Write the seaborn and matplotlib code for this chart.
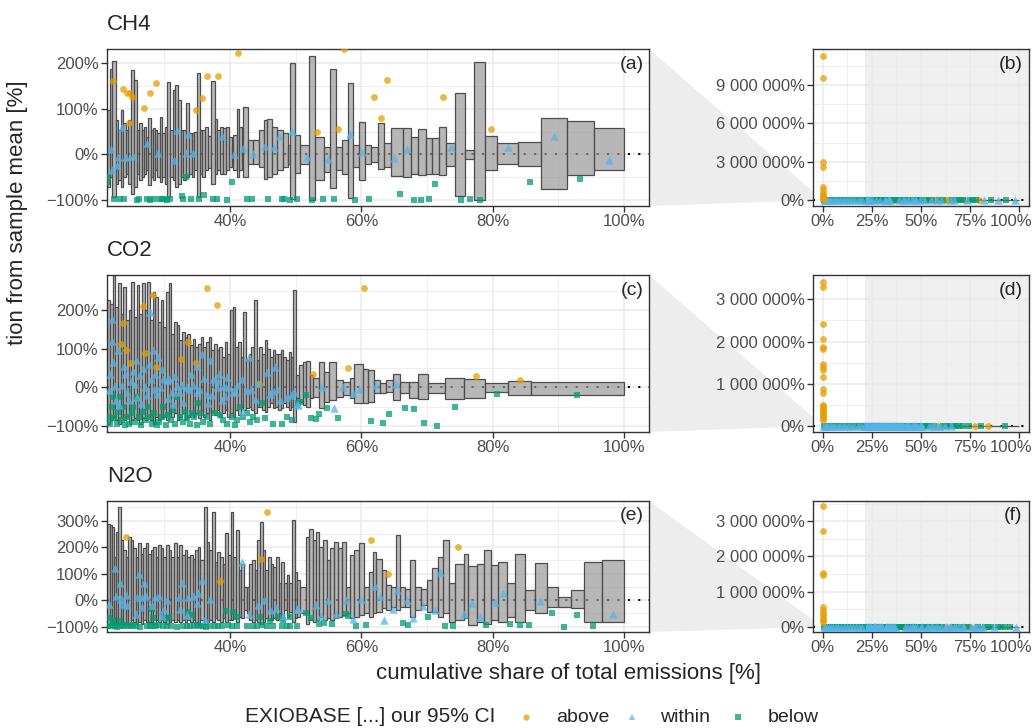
import numpy as np
import pandas as pd
import seaborn as sns
import matplotlib.pyplot as plt
import matplotlib.transforms as mtransforms
from matplotlib.patches import Polygon
from matplotlib.lines import Line2D
from matplotlib.ticker import FuncFormatter, FixedLocator

sns.set_theme(style="white")
plt.rcParams['font.family'] = ['Liberation Sans', 'DejaVu Sans']

ORANGE, BLUE, GREEN = "#E69F00", "#56B4E9", "#009E73"

# ---------------- CH4 ----------------
# box edges = cumulative share of emissions [%], lo/hi = our 95% CI [% deviation]
ch4_edges = [20.0, 21.3, 21.7, 22.1, 22.6, 23.0, 23.4, 23.75, 24.15, 24.5, 25.0, 25.4, 25.8, 26.2, 26.55,
             26.9, 27.2, 27.55, 27.9, 28.2, 28.6, 28.9, 29.35, 29.7, 30.1, 30.45, 30.85, 31.25, 31.65, 32.1,
             32.5, 32.9, 33.3, 33.7, 34.15, 34.55, 35.0, 35.4, 35.8, 36.25, 36.65, 37.1, 37.65, 38.05, 38.5,
             39.0, 39.4, 39.8, 40.3, 40.5, 41.0, 41.4, 41.8, 42.0, 42.8, 43.55, 44.45, 45.15, 45.7, 46.35,
             47.1, 48.0, 48.9, 49.15, 49.9, 50.65, 52.0, 52.9, 54.35, 55.3, 56.2, 57.1, 57.9, 58.8, 59.7,
             60.55, 61.5, 62.6, 63.5, 64.5, 66.4, 67.5, 68.6, 69.8, 70.8, 71.75, 72.95, 74.3, 75.8, 77.2,
             78.9, 80.7, 83.9, 87.4, 91.3, 95.4, 100.0]
ch4_lo = [-60, -71, -49, -93, -64, -56, -71, -49, -42, -64, -86, -71, -42, -56, -49, -42, -34, -67, -49, -56,
          -34, -49, -60, -49, -64, -93, -49, -56, -71, -64, -49, -56, -49, -42, -49, -34, -93, -42, -49, -34,
          -30, -64, -42, -34, -42, -42, -34, -27, -20, -34, -49, -34, -20, -49, -20, -20, -27, -53, -49, -42,
          -34, -27, -20, -97,
          -40, -20, -99, -56, -38, -73, -34, -42, -96, -27, -56, -20, -16, -31, -27, -47, -49, -42, -45, -42,
          -42, -45, -25, -91, -9, -99, -34, -20, -26, -76, -45, -34]
ch4_hi = [90, 97, 188, 205, 76, 53, 97, 68, 53, 76, 185, 164, 53, 68, 53, 61, 39, 79, 53, 57,
          53, 46, 82, 46, 61, 159, 53, 141, 152, 119, 53, 53, 112, 46, 46, 50, 179, 53, 53, 61,
          40, 161, 77, 53, 61, 57, 61, 39, 20, 42, 99, 61, 20, 103, 31, 31, 53, 75, 77, 61,
          53, 46, 20, 200,
          42, 20, 216, 39, 17, 187, 17, 31, 157, 20, 72, 20, 17, 68, 24, 59, 57, 39, 55, 35,
          37, 61, 26, 134, 10, 202, 41, 24, 28, 80, 73, 59]

ch4_above_x = [22.23, 23.65, 24.26, 24.62, 24.77, 25.02, 26.9, 27.81, 28.73, 34.82, 35.68, 36.54, 38.22,
               41.27, 53.26, 56.5, 57.4, 61.96, 62.99, 63.97, 72.4, 79.7]
ch4_above_y = [161.5, 143.2, 135.2, 67.9, 133.7, 126.4, 100.8, 133.7, 155.6, 97.2, 122.7, 171.7, 171.7,
               221.4, 49.7, 54.8, 232, 125, 80.4, 163, 126.4, 54.8]
ch4_within_x = [21.82, 21.98, 22.74, 22.99, 23.5, 24.16, 25.28, 27.31, 28.98, 31.47, 31.88, 33.3, 33.65,
                34.41, 38.83, 40.66, 41.93, 43.55, 45.33, 46.7, 47.41, 49.39, 51.74, 54.89, 58.27, 60.17,
                64.9, 66.96, 73.65, 82.3, 89.26, 97.69]
ch4_within_y = [11.6, -34.4, -23.4, -6.6, 60.6, -6.6, -3.7, 24.1, 2.2, -12.5, 53.3, 2.2, 44.5,
                2.2, 40.9, 0, 14.6, 0, 19, 16.8, 40.9, 51.8, -5.2, -10.3, 44.6, 4.3,
                -8.8, 11, 16.8, 15.3, 40.9, -12.5]
ch4_below_x = [21.32, 21.32, 22.33, 23.25, 23.85, 25.89, 26.19, 27.31, 27.81, 28.32, 29.24, 29.59, 29.95,
               30.35, 30.86, 32.64, 32.89, 33.23, 34.01, 35.28, 36.09, 37.46, 37.97, 39.49, 40.25, 42.53,
               43.30, 45.83, 47.87, 48.22, 49.13, 50.15, 52.55, 54.19, 55.82, 59.08, 61.09, 65.9, 68.05,
               69.14, 70.23, 71.2, 75.12, 76.48, 78.11, 85.7, 93.3]
ch4_below_y = [-49, -60, -97, -98, -97, -99, -98, -97, -99, -98, -98, -97, -98,
               -99, -98, -91, -97, -49, -98, -97, -88, -98, -97, -99, -60, -98,
               -97, -98, -97, -98, -99, -98, -99, -98, -98, -99, -98, -86, -99,
               -99, -98, -64, -99, -98, -99, -61, -53]
# sectors below 21 % share (only visible in the full-range panel)
ch4_low_above_x = [0.3, 0.6, 5.1, 12.2]
ch4_low_above_y = [180, 95, 140, 120]
ch4_low_within_x = [0.4, 1.1, 1.9, 2.8, 3.7, 4.9, 6.2, 7.4, 8.9, 10.3, 11.8, 13.5, 15.1, 16.6, 18.2, 19.7]
ch4_low_within_y = [12, -30, 45, 8, -15, 60, 22, -8, 35, -40, 15, 5, -22, 48, 10, -5]
ch4_low_below_x = [0.7, 1.5, 2.4, 3.3, 4.4, 5.6, 6.9, 8.1, 9.6, 11.0, 12.6, 14.2, 15.8, 17.4, 19.0, 20.5]
ch4_low_below_y = [-98, -97, -99, -96, -98, -99, -97, -98, -99, -96, -98, -97, -99, -98, -97, -99]
ch4_out_x = [0.1, 0.1, 0.15, 0.1, 0.2, 0.15, 0.1, 0.2, 0.3, 0.25, 0.4]
ch4_out_y = [11.3e6, 9.57e6, 3.0e6, 2.6e6, 1.04e6, 0.78e6, 0.55e6, 0.38e6, 0.25e6, 0.15e6, 0.08e6]

# ---------------- CO2 ----------------
co2_edges = [20.0, 21.32, 21.73, 22.13, 22.54, 22.94, 23.35, 23.76, 24.16, 24.57, 24.97, 25.38, 25.79, 26.19,
             26.60, 27.00, 27.41, 27.82, 28.22, 28.63, 29.03, 29.44, 29.85, 30.25, 30.66, 31.06, 31.47, 31.88,
             32.28, 32.69, 33.09, 33.50, 33.91, 34.31, 34.72, 35.12, 35.53, 35.94, 36.34, 36.75, 37.15, 37.56,
             37.97, 38.37, 38.78, 39.18, 39.59, 40.00, 40.40, 40.81, 41.21, 41.62, 42.03, 42.43, 42.84, 43.24,
             43.65, 44.06, 44.46, 44.87, 45.27, 45.68, 46.09, 46.49, 46.90, 47.30, 47.71, 48.12, 48.52, 48.93,
             49.33, 49.60, 50.00, 50.5, 51.1, 51.6, 52.2, 52.7, 53.5, 54.35, 55.0, 56.2, 57.2, 58.3, 58.9,
             60.2, 61.0, 62.0, 62.9, 63.7, 64.8, 65.9, 67.2, 68.7, 70.2, 72.7, 75.7, 78.9, 82.3, 85.9, 100.0]
co2_hi = [200,
          225, 217, 290, 208, 269, 191, 260, 174, 199, 273, 182, 264, 191, 269, 199, 273, 174, 247, 234, 169,
          225, 156, 247, 270, 139, 169, 161, 122, 143, 130, 139, 109, 126, 104, 113, 129, 104, 117, 130, 96,
          113, 96, 104, 79, 117, 87, 199, 208, 104, 117, 79, 195, 70, 87, 104, 225, 70, 104, 87, 122,
          100, 79, 96, 87, 87, 96, 79, 70, 92, 79, 251,
          31, 57, 66, 67, 31, 24, 66, 40, 66, 18, 14, 23, 60, 47, 44, 18, 12, 18, 35, 14,
          14, 35, 12, 23, 21, 10, 16, 14]
co2_lo = [-90,
          -94, -86, -77, -86, -94, -77, -86, -77, -94, -86, -81, -86, -94, -81, -86, -77, -86, -94, -77, -86,
          -81, -77, -86, -68, -77, -68, -86, -77, -68, -86, -77, -68, -77, -68, -81, -60, -77, -68, -86, -64,
          -73, -60, -77, -68, -60, -77, -68, -77, -60, -73, -51, -60, -55, -51, -60, -68, -51, -51, -60, -64,
          -51, -42, -55, -51, -60, -55, -42, -51, -60, -51, -90,
          -29, -38, -47, -51, -29, -25, -55, -38, -34, -25, -21, -29, -40, -40, -38, -16, -16, -12, -34, -15,
          -29, -31, -16, -31, -28, -12, -19, -19]

co2_above_x = [23.35, 23.65, 24.16, 24.77, 26.8, 27.05, 28.32, 28.73, 32.48, 33.65, 34.77, 36.44, 38.07,
               44.46, 52.7, 57.9, 60.4, 77.4, 84.1]
co2_above_y = [111, 166.6, 95.8, 63.9, 210.7, 88.9, 239.2, 52.6, 72.5, 117.4, 63.9, 257.3, 214.1,
               9.5, 35.4, 51, 258.2, 28.5, 18.2]
co2_within_x = [21.98, 21.72, 21.62, 22.23, 22.48, 22.64, 22.99, 23.5, 24.0, 24.26, 24.67, 25.28, 25.53,
                25.89, 26.29, 26.7, 27.05, 27.41, 27.81, 27.92, 28.22, 28.58, 28.83, 29.08, 29.34, 29.85,
                30.35, 30.76, 31.11, 31.37, 31.88, 32.28, 32.64, 33.4, 33.8, 34.41, 34.92, 35.33, 35.68,
                36.04, 36.44, 36.95, 37.21, 37.46, 37.97, 38.37, 38.73, 39.08, 39.49, 39.74, 40.5, 40.76,
                41.78, 42.03, 42.53, 42.89, 43.14, 43.8, 45.58, 46.09, 46.85, 47.1, 47.61, 48.63, 49.24,
                50.15, 49.8, 50.4, 54.0, 55.8, 57.2, 58.7, 59.6, 62.3, 65.3,
                22.1, 23.1, 23.9, 24.9, 25.7, 26.5, 27.6, 28.4, 29.7, 30.5, 31.6, 32.9, 34.1, 35.0, 36.7,
                38.1, 39.3, 41.0, 44.2, 46.4]
co2_within_y = [178, 35.4, -7.8, 65.6, 2.6, -32, 95.8, 5.1, 35.4, -12.1, -33.7, 42.3, 9.5,
                -25, 31, 50.9, 0.8, -20.8, 195.1, 22.4, 95.8, 35.4, -18.2, 78.6, 0.8, 22.4,
                18.1, 22.4, -12.1, -42.4, 2.6, -12.1, 5.1, 0.8, -3.5, 5.1, -12.1, -3.5, 85.5,
                25, -18.2, 69.9, -20.8, 22.4, 0.8, 35.4, -33.7, 2.6, 26.7, 0.8, -12.1, -12.1,
                22.4, -64, -7.8, 78.6, -3.5, -29.4, 39.7, -16.4, 52.6, -3.5, -33.7, -25, -19,
                -42.4, -12, -44.9, 0.9, -53.5, 0.9, -14.7, -5, 5.2, 9.5,
                120, -45, 55, 15, 70, -40, 60, -5, 48, -28, 30, -38, 35, 55, -40,
                15, -22, 5, 10, -10]
co2_below_x = [21.62, 21.72, 21.98, 22.23, 22.33, 22.74, 22.99, 23.25, 23.5, 23.75, 24.0, 24.36, 24.67,
               25.02, 25.28, 25.53, 25.78, 26.19, 26.39, 26.8, 27.2, 27.56, 27.81, 28.07, 28.42, 28.83,
               29.24, 29.59, 29.85, 30.25, 30.61, 30.96, 31.37, 31.67, 31.98, 32.38, 32.79, 33.14, 33.5,
               33.91, 34.16, 34.52, 34.92, 35.17, 35.43, 35.94, 36.44, 36.95, 37.71, 38.47, 38.98, 39.49,
               40.25, 40.76, 41.11, 41.52, 42.03, 42.53, 43.04, 43.55, 44.06, 44.82, 45.33, 46.6, 47.87,
               48.63, 49.39, 50.4, 50.65, 51.5, 52.3, 53.1, 53.6, 54.7, 56.5, 61.4, 63.3, 64.2, 66.7,
               68.05, 69.6, 71.5, 74.3, 80.7, 92.9]
co2_below_y = [-77, -94, -51, -25, -81, -94, -64, -25, -86, -51, -98, -77, -94,
               -68, -51, -90, -25, -77, -98, -64, -86, -51, -77, -94, -68, -98,
               -90, -77, -51, -98, -73, -86, -60, -94, -25, -77, -90, -64, -81,
               -94, -68, -77, -98, -42, -68, -90, -77, -94, -68, -73, -86, -94,
               -77, -98, -86, -51, -77, -68, -90, -77, -86, -42, -81, -94, -94,
               -77, -86, -42, -38, -20.7, -81, -82.9, -68.2, -53.5, -78.6, -88, -91.5, -68.2, -52.6,
               -57, -91.5, -100, -50.9, -16.4, -19]
co2_low_above_x = [0.5, 2.6, 7.9, 14.3]
co2_low_above_y = [150, 210, 90, 130]
co2_low_within_x = [0.3, 0.9, 1.6, 2.3, 3.2, 4.1, 5.3, 6.4, 7.6, 8.8, 10.1, 11.4, 12.9, 14.6, 16.0, 17.7, 19.3, 20.8]
co2_low_within_y = [25, -18, 60, 4, -35, 12, 42, -9, 20, -44, 7, 33, -15, 52, 0, -27, 18, -6]
co2_low_below_x = [0.6, 1.3, 2.0, 2.9, 3.8, 4.7, 5.9, 7.0, 8.3, 9.5, 10.8, 12.2, 13.7, 15.3, 16.9, 18.5, 20.1]
co2_low_below_y = [-96, -99, -88, -97, -75, -98, -92, -99, -81, -97, -94, -99, -86, -98, -91, -97, -99]
co2_out_x = [0.2, 0.3, 0.2, 0.25, 0.2, 0.3, 0.2, 0.25, 0.3, 0.2, 0.25, 0.2, 0.3, 0.2, 0.25, 0.3, 0.2, 0.25,
             0.3, 0.2, 0.25, 0.3]
co2_out_y = [3.41e6, 3.29e6, 2.41e6, 2.05e6, 1.86e6, 1.82e6, 1.46e6, 1.39e6, 1.32e6, 1.15e6, 0.86e6, 0.78e6,
             0.5e6, 0.46e6, 0.42e6, 0.38e6, 0.34e6, 0.3e6, 0.26e6, 0.22e6, 0.18e6, 0.14e6]

# ---------------- N2O ----------------
n2o_edges = [20.0, 21.32, 21.72, 22.03, 22.33, 22.64, 22.99, 23.35, 23.75, 24.16, 24.51, 24.87, 25.28, 25.68,
             26.04, 26.39, 26.80, 27.21, 27.56, 27.92, 28.32, 28.73, 29.08, 29.44, 29.84, 30.25, 30.66, 31.06,
             31.47, 31.88, 32.28, 32.69, 33.09, 33.50, 33.91, 34.31, 34.72, 35.12, 35.43, 36.04, 36.44, 36.85,
             37.26, 37.66, 38.07, 38.47, 38.88, 39.29, 39.69, 40.10, 40.50, 40.91, 41.32, 41.72, 42.13, 42.54,
             42.94, 43.35, 43.75, 44.16, 44.57, 44.97, 45.38, 45.78, 46.19, 46.60, 47.00, 47.41, 47.81, 48.22,
             48.63, 49.03, 49.44, 49.85, 50.25, 50.66, 51.5, 52.0, 52.6, 53.1, 53.6, 54.2, 54.7, 55.3, 55.8,
             56.4, 57.1, 57.7, 58.3, 58.9, 59.6, 60.4, 61.1, 61.7, 62.3, 63.2, 63.8, 64.5, 65.2, 65.9, 66.7,
             67.4, 68.2, 69.1, 70.0, 70.7, 71.6, 72.4, 73.4, 74.3, 75.6, 76.3, 77.6, 78.7, 79.7, 80.8, 82.2,
             83.4, 84.9, 86.4, 88.2, 89.9, 91.9, 93.9, 96.6, 100.0]
n2o_hi = [200,
          289, 283, 277, 163, 258, 350, 226, 189, 163, 239, 226, 195, 163, 214, 176, 195, 214, 176, 189, 201,
          163, 208, 195, 163, 208, 189, 163, 214, 163, 208, 170, 189, 163, 170, 157, 189, 201, 151, 352, 220,
          189, 333, 145, 182, 163, 138, 252, 170, 333, 163, 264, 113, 138, 50, 50, 138, 151, 113, 226, 296,
          189, 113, 163, 138, 126, 163, 63, 145, 63, 94, 63, 302, 107, 75,
          50, 239, 267, 226, 258, 201, 226, 151, 195, 220, 195, 220, 50, 170, 189, 214, 50, 107, 182, 157,
          113, 57, 50, 245, 50, 44, 151, 48, 44, 75, 123, 163, 226, 63, 138, 176, 128, 138, 189, 132,
          145, 63, 176, 40, 141, 50, 13, 40, 145, 151]
n2o_lo = [-85,
          -88, -82, -88, -82, -88, -88, -82, -88, -82, -88, -76, -82, -88, -82, -88, -76, -82, -82, -82, -88,
          -76, -82, -76, -82, -88, -82, -76, -82, -76, -82, -76, -82, -76, -82, -76, -82, -88, -76, -88, -82,
          -76, -82, -69, -76, -82, -69, -82, -76, -76, -69, -82, -63, -69, -38, -50, -76, -82, -76, -82, -88,
          -82, -69, -76, -76, -69, -76, -50, -76, -38, -63, -44, -82, -69, -63,
          -50, -88, -76, -82, -76, -63, -76, -69, -76, -69, -63, -57, -50, -69, -63, -57, -50, -63, -50, -44,
          -31, -38, -25, -38, -25, -25, -63, -38, -19, -44, -44, -63, -50, -82, -76, -69, -94, -82, -88, -76,
          -82, -63, -82, -38, -50, -25, -25, -31, -82, -82]

n2o_above_x = [24.16, 38.47, 44.72, 45.58, 61.4, 64.1, 74.7]
n2o_above_y = [236.5, 72.9, 153.4, 333.3, 226.4, 97, 198.7]
n2o_within_x = [21.62, 22.48, 22.64, 23.25, 23.35, 23.5, 24.16, 24.36, 25.68, 25.89, 26.19, 26.55, 26.55,
                26.9, 27.21, 28.07, 28.58, 29.24, 29.59, 29.95, 30.35, 32.28, 32.64, 32.38, 33.4, 33.65,
                34.31, 34.92, 35.17, 35.68, 36.19, 36.95, 41.77, 42.94, 44.31, 45.17, 46.09, 47.0, 48.12,
                50.25, 50.4, 53.1, 53.8, 54.9, 56.1, 57.7, 58.8, 60.0, 62.1, 62.8, 63.4, 64.8, 65.5, 67.0,
                67.9, 69.4, 71.2, 72.0, 75.7, 76.9, 78.0, 80.3, 81.5, 87.2, 98.3]
n2o_within_y = [-12.6, 123.2, 15.1, 65.4, 6.3, -12.6, 18.9, -18.9, -50.4, 12.6, 100.6, 12.6, -25.2,
                62.9, 15.1, -18.9, 12.6, 15.1, -60.4, -31.5, 0, 12.6, 62.9, -31.5, -56.6, 12.6,
                15.1, -10.1, 25.2, 75.5, -69.2, 6.3, 144.6, -52.9, -18.9, 0, -37.7, -27.7, -60.4,
                -31.5, -31.5, -18.9, -60.4, 0, -50.3, 0, -69.2, 6.3, 54, 15.1, -73, -31.5, 37.7, 0,
                -66.7, -21.4, -35.2, 106.9, -50.3, -10.1, -63, -6.3, 27.7, -2.5, -52.9]
n2o_below_x = [21.47, 21.82, 22.13, 22.48, 22.84, 23.25, 23.65, 24.01, 24.51, 24.87, 25.28, 25.68, 26.29,
               27.31, 27.81, 28.32, 28.73, 29.24, 29.74, 30.35, 30.96, 31.98, 32.89, 33.50, 33.91, 34.51,
               34.92, 35.43, 35.83, 36.34, 36.95, 37.71, 38.22, 38.73, 39.74, 40.25, 41.11, 42.54, 43.45,
               44.06, 44.82, 45.58, 46.60, 47.87, 48.63, 49.13, 50.15,
               21.62, 22.23, 23.25, 28.07, 28.32, 30.35, 30.76, 33.65, 34.16, 39.39, 40.5, 41.01, 44.57,
               46.09, 47.36, 48.12, 49.13,
               51.5, 52.3, 53.6, 54.3, 55.5, 57.6, 58.0, 59.2, 60.7, 66.4, 67.1, 70.1, 72.8, 73.9, 79.0,
               82.7, 84.1, 85.6, 89.0, 90.9, 92.9, 95.3]
n2o_below_y = [-97, -99, -95, -98, -100, -96, -98, -94, -99, -97, -95, -98, -100,
               -97, -99, -96, -98, -95, -99, -97, -98, -100, -96, -98, -97, -99,
               -95, -98, -97, -100, -96, -99, -98, -97, -95, -99, -98, -96, -99,
               -97, -95, -98, -99, -97, -98, -96, -99,
               -69, -76, -78, -35, -69, -69, -69, -44, -57, -40, -44, -63, -63,
               -78, -63, -76, -63,
               -48, -69, -88, -86, -88, -53, -60, -98, -92, -86, -92, -65, -98, -98, -92,
               -88, -94, -94, -48, -100, -57, -98]
n2o_low_above_x = [0.4, 3.5, 9.2, 16.8]
n2o_low_above_y = [120, 260, 80, 170]
n2o_low_within_x = [0.5, 1.2, 2.1, 3.0, 4.2, 5.4, 6.7, 7.9, 9.4, 10.7, 12.1, 13.8, 15.2, 16.9, 18.4, 20.0]
n2o_low_within_y = [30, -22, 75, 10, -48, 18, 55, -12, 36, -30, 8, 62, -20, 25, -5, 40]
n2o_low_below_x = [0.8, 1.7, 2.6, 3.6, 4.8, 6.1, 7.3, 8.6, 10.0, 11.3, 12.8, 14.4, 16.0, 17.6, 19.2, 20.7]
n2o_low_below_y = [-97, -99, -94, -98, -100, -96, -99, -97, -95, -99, -98, -96, -99, -97, -98, -100]
n2o_out_x = [0.2, 0.25, 0.2, 0.3, 0.2, 0.25, 0.3, 0.2, 0.25, 0.3, 0.2]
n2o_out_y = [3.45e6, 2.73e6, 1.53e6, 1.47e6, 0.57e6, 0.48e6, 0.4e6, 0.33e6, 0.26e6, 0.2e6, 0.14e6]

# ---------------------------------------------------------------
W, H = 1035, 728
fig = plt.figure(figsize=(W / 100, H / 100), dpi=100)


def px_axes(x0, y0, x1, y1):
    return fig.add_axes([x0 / W, 1 - y1 / H, (x1 - x0) / W, (y1 - y0) / H])


def pct(v, pos=None):
    s = f"{abs(v):,.0f}".replace(",", " ") + "%"
    return "\u2212" + s if v < 0 else s


def style(ax):
    ax.set_facecolor("white")
    for sp in ax.spines.values():
        sp.set_visible(True)
        sp.set_color("#333333")
        sp.set_linewidth(1.0)
    ax.tick_params(which="major", direction="out", length=4, width=1, color="#333333",
                   labelsize=12, labelcolor="#4D4D4D", pad=2, bottom=True, left=True)
    ax.tick_params(which="minor", length=0, bottom=False, left=False)
    ax.grid(which="major", color="#EBEBEB", lw=1.1)
    ax.grid(which="minor", color="#EBEBEB", lw=0.55)
    ax.set_axisbelow(True)
    ax.yaxis.set_major_formatter(FuncFormatter(pct))
    ax.xaxis.set_major_formatter(FuncFormatter(pct))
    ax.set_xlabel("")
    ax.set_ylabel("")


def points(ax, ax_, ay_, wx, wy, bx, by):
    sns.scatterplot(x=ax_, y=ay_, ax=ax, color=ORANGE, marker="o", s=24, alpha=0.75, linewidth=0, zorder=3)
    sns.scatterplot(x=bx, y=by, ax=ax, color=GREEN, marker="s", s=21, alpha=0.75, linewidth=0, zorder=3)
    sns.scatterplot(x=wx, y=wy, ax=ax, color=BLUE, marker="^", s=36, alpha=0.75, linewidth=0, zorder=3)


def boxes(ax, edges, lo, hi):
    e, lo, hi = np.array(edges), np.array(lo), np.array(hi)
    ax.bar(e[:-1], hi - lo, width=np.diff(e), bottom=lo, align="edge",
           facecolor=(0.6, 0.6, 0.6, 0.7), edgecolor="#4D4D4D", linewidth=0.9, zorder=2)


panels = [
    ("CH4", "(a)", "(b)", 49, 206, ch4_edges, ch4_lo, ch4_hi,
     (ch4_above_x, ch4_above_y, ch4_within_x, ch4_within_y, ch4_below_x, ch4_below_y),
     (ch4_low_above_x, ch4_low_above_y, ch4_low_within_x, ch4_low_within_y, ch4_low_below_x, ch4_low_below_y),
     (ch4_out_x, ch4_out_y), (-113, 231), [-100, 0, 100, 200], [-50, 50, 150],
     (-0.47e6, 11.82e6), [0, 3e6, 6e6, 9e6], [1.5e6, 4.5e6, 7.5e6, 10.5e6]),
    ("CO2", "(c)", "(d)", 275, 432, co2_edges, co2_lo, co2_hi,
     (co2_above_x, co2_above_y, co2_within_x, co2_within_y, co2_below_x, co2_below_y),
     (co2_low_above_x, co2_low_above_y, co2_low_within_x, co2_low_within_y, co2_low_below_x, co2_low_below_y),
     (co2_out_x, co2_out_y), (-116, 291), [-100, 0, 100, 200], [-50, 50, 150, 250],
     (-0.15e6, 3.58e6), [0, 1e6, 2e6, 3e6], [0.5e6, 1.5e6, 2.5e6, 3.5e6]),
    ("N2O", "(e)", "(f)", 501, 632, n2o_edges, n2o_lo, n2o_hi,
     (n2o_above_x, n2o_above_y, n2o_within_x, n2o_within_y, n2o_below_x, n2o_below_y),
     (n2o_low_above_x, n2o_low_above_y, n2o_low_within_x, n2o_low_within_y, n2o_low_below_x, n2o_low_below_y),
     (n2o_out_x, n2o_out_y), (-120, 374), [-100, 0, 100, 200, 300], [-50, 50, 150, 250, 350],
     (-0.15e6, 3.58e6), [0, 1e6, 2e6, 3e6], [0.5e6, 1.5e6, 2.5e6, 3.5e6]),
]

XL = (21.27, 103.8)
for (gas, lab_l, lab_r, top, bot, edges, lo, hi, pts, low, out, ylim, yt, ymt,
     ylim_r, yt_r, ymt_r) in panels:
    # zoomed panel
    axl = px_axes(107, top, 649, bot)
    axl.axhline(0, color="black", ls=(0, (1, 4)), lw=1.5, zorder=1.5)
    boxes(axl, edges, lo, hi)
    points(axl, *pts)
    axl.set_xlim(*XL)
    axl.set_ylim(*ylim)
    axl.xaxis.set_major_locator(FixedLocator([40, 60, 80, 100]))
    axl.xaxis.set_minor_locator(FixedLocator([30, 50, 70, 90]))
    axl.yaxis.set_major_locator(FixedLocator(yt))
    axl.yaxis.set_minor_locator(FixedLocator(ymt))
    style(axl)
    axl.text(0.99, 0.955, lab_l, transform=axl.transAxes, ha="right", va="top", fontsize=14)
    fig.text(107 / W, 1 - (top - 19) / H, gas, fontsize=16, ha="left", va="baseline")

    # full-range panel
    axr = px_axes(813, top, 1029, bot)
    axr.axvspan(XL[0], 120, color="#EFEFEF", lw=0, zorder=0.2)
    boxes(axr, edges, lo, hi)
    axr.axhline(0, color="black", ls=(0, (1, 4)), lw=1.5, zorder=1.5)
    points(axr, *pts)
    points(axr, *low)
    sns.scatterplot(x=out[0], y=out[1], ax=axr, color=ORANGE, marker="o", s=24, alpha=0.75,
                    linewidth=0, zorder=3)
    axr.set_xlim(-5, 105)
    axr.set_ylim(*ylim_r)
    axr.xaxis.set_major_locator(FixedLocator([0, 25, 50, 75, 100]))
    axr.xaxis.set_minor_locator(FixedLocator([12.5, 37.5, 62.5, 87.5]))
    axr.yaxis.set_major_locator(FixedLocator(yt_r))
    axr.yaxis.set_minor_locator(FixedLocator(ymt_r))
    style(axr)
    # keep the last x label inside the canvas
    last = axr.xaxis.get_major_ticks()[-1].label1
    last.set_transform(last.get_transform() +
                       mtransforms.ScaledTranslation(-8 / 100, 0, fig.dpi_scale_trans))
    axr.text(0.97, 0.955, lab_r, transform=axr.transAxes, ha="right", va="top", fontsize=14)

    # grey wedge linking the zoomed window to the full range
    inv = fig.transFigure.inverted()
    p1 = inv.transform(axl.transAxes.transform((1, 1)))
    p2 = inv.transform(axl.transAxes.transform((1, 0)))
    q1 = inv.transform(axr.transData.transform((0, ylim[1])))
    q2 = inv.transform(axr.transData.transform((0, ylim[0])))
    fig.add_artist(Polygon([p1, q1, q2, p2], closed=True, transform=fig.transFigure,
                           facecolor="#EDEDED", edgecolor="none", zorder=-1))

fig.text(568 / W, 1 - 674 / H, "cumulative share of total emissions [%]", fontsize=16,
         ha="center", va="center")
fig.text(18 / W, 1 - 345 / H, "tion from sample mean [%]", fontsize=16, rotation=90,
         ha="center", va="bottom")

# legend
ly = 1 - 717 / H
fig.text(245 / W, ly, "EXIOBASE [...] our 95% CI", fontsize=15, ha="left", va="center")
for xm, xt, mk, col, lab in [(526, 556, "o", ORANGE, "above"), (632, 660, "^", BLUE, "within"),
                             (738, 768, "s", GREEN, "below")]:
    fig.add_artist(Line2D([xm / W], [ly], marker=mk, color=col, ms=4.5, alpha=0.75, ls="none",
                          markeredgewidth=0, transform=fig.transFigure))
    fig.text(xt / W, ly, lab, fontsize=14, ha="left", va="center")

fig.savefig("out.png", dpi=100)
